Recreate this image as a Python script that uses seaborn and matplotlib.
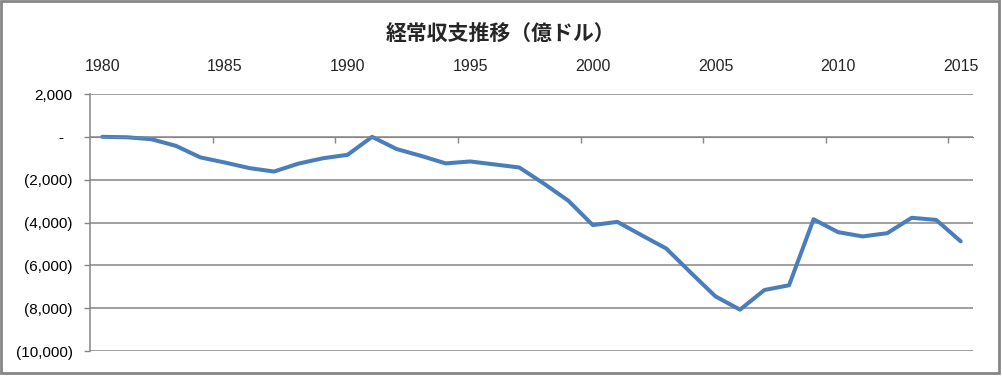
import matplotlib
matplotlib.use('Agg')
from matplotlib import pyplot as plt
from matplotlib.ticker import FixedLocator, FuncFormatter
import pandas as pd
import seaborn as sns

# data (億ドル)
years = list(range(1980, 2016))
balance = [0, -20, -110, -420, -960, -1200, -1460, -1620, -1250, -1000,
           -840, 0, -570, -890, -1240, -1150, -1290, -1430, -2180, -2980,
           -4120, -3970, -4600, -5220, -6350, -7450, -8070, -7150, -6930, -3850,
           -4450, -4650, -4500, -3780, -3880, -4880]
y_ticks = [2000, 0, -2000, -4000, -6000, -8000, -10000]
x_labels = [1980, 1985, 1990, 1995, 2000, 2005, 2010, 2015]
title = '経常収支推移（億ドル）'

df = pd.DataFrame({'year': years, 'balance': balance})

sns.set_style("white")
plt.rcParams['font.family'] = ['Liberation Sans', 'DejaVu Sans']

grey = '#868686'
fig = plt.figure(figsize=(10.02, 3.76), dpi=100)
ax = fig.add_axes([90 / 1002, 1 - 351 / 376, (973 - 90) / 1002, (351 - 94) / 376])

sns.lineplot(data=df, x='year', y='balance', ax=ax, color='#4a7ebb', linewidth=2.9)

ax.set_xlim(1979.5, 2015.5)
ax.set_ylim(-10000, 2000)
ax.set_xlabel('')
ax.set_ylabel('')

# y axis: accounting style labels
def acct(v, pos):
    if v == 0:
        return '-  '
    if v < 0:
        return '({:,.0f})'.format(-v)
    return '{:,.0f}'.format(v)

ax.yaxis.set_major_locator(FixedLocator(y_ticks))
ax.yaxis.set_major_formatter(FuncFormatter(acct))
ax.grid(axis='y', color=grey, linewidth=1.1)
ax.tick_params(axis='y', left=True, length=4, width=1, color=grey,
               pad=8.5, labelsize=11, labelcolor='black')

# x axis: labels above plot, tick marks between categories on the zero line
ax.set_xticks(x_labels)
ax.set_xticks([y - 0.5 for y in x_labels[1:]], minor=True)
ax.tick_params(axis='x', which='major', bottom=False, top=False,
               labeltop=True, labelbottom=False, labelsize=11.5, pad=11)
ax.tick_params(axis='x', which='minor', bottom=True, top=False, direction='out',
               length=4, width=1, color=grey)
ax.spines['bottom'].set_position(('data', 0))
ax.spines['bottom'].set_color(grey)
ax.spines['left'].set_color(grey)
ax.spines['left'].set_linewidth(1.1)
ax.spines['top'].set_visible(False)
ax.spines['right'].set_visible(False)

fig.text(0.5, 1 - 33 / 376, title, ha='center', va='center', fontsize=15,
         fontweight='bold', family=['Noto Sans CJK JP', 'DejaVu Sans'])

fig.add_artist(plt.Rectangle((1 / 1002, 3 / 376), 998 / 1002, 372 / 376,
                             transform=fig.transFigure, fill=False,
                             edgecolor=grey, linewidth=2))

fig.savefig('out.png', dpi=100)
